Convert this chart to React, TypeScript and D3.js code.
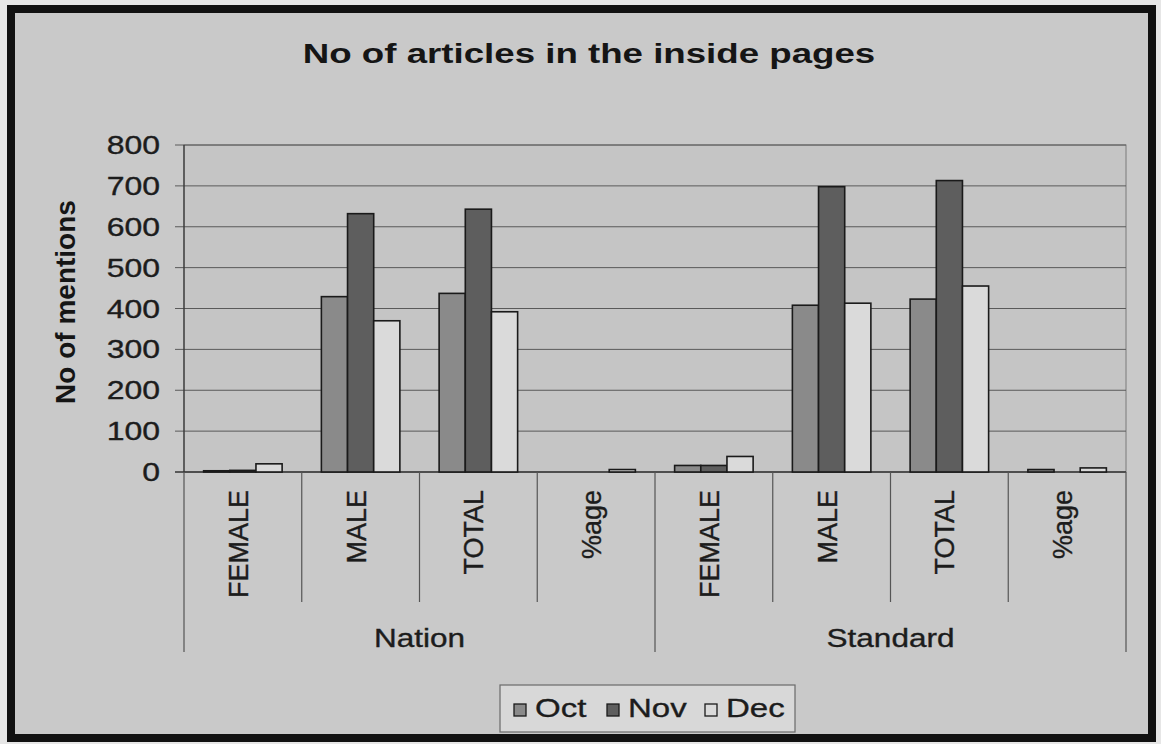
import React from "react";
import * as d3 from "d3";

// Chart data
const groups = ["Nation", "Standard"];
const categories = ["FEMALE", "MALE", "TOTAL", "%age"];
const series = ["Oct", "Nov", "Dec"];
const nationValues = [
  [3, 4, 20],
  [429, 632, 370],
  [437, 643, 392],
  [0, 0, 6],
];
const standardValues = [
  [16, 16, 38],
  [408, 698, 413],
  [423, 713, 455],
  [6, 0, 10],
];
const yTicks = [0, 100, 200, 300, 400, 500, 600, 700, 800];

const seriesFill: Record<string, string> = { Oct: "#8a8a8a", Nov: "#5e5e5e", Dec: "#dadada" };
const FONT = "'Liberation Sans', Arial, Helvetica, sans-serif";
const SX = 1.28; // horizontal text stretch
const INK = "#1c1c1c";

export default function App() {
  const W = 1161;
  const H = 744;
  const plot = { left: 184, right: 1126, top: 145, bottom: 472 };

  const rows = groups.flatMap((g, gi) =>
    categories.map((c, ci) => ({
      key: `${g}-${c}`,
      group: g,
      cat: c,
      values: (gi === 0 ? nationValues : standardValues)[ci],
    }))
  );

  const x = d3
    .scaleBand<string>()
    .domain(rows.map((r) => r.key))
    .range([plot.left, plot.right])
    .padding(0);
  const xi = d3
    .scaleBand<string>()
    .domain(series)
    .range([0, x.bandwidth()])
    .paddingInner(0)
    .paddingOuter(0.75);
  const y = d3.scaleLinear().domain([0, 800]).range([plot.bottom, plot.top]);

  const bw = x.bandwidth();
  const dividers = d3.range(rows.length + 1).map((i) => plot.left + i * bw);

  // slightly heavier text strokes, like a printed chart
  const textInk = { fill: INK, stroke: INK, strokeWidth: 0.35 };

  return (
    <svg width={W} height={H} style={{ position: "absolute", left: 0, top: 0 }}>
      <rect x={0} y={0} width={W} height={H} fill="#e6e6e6" />
      {/* outer frame */}
      <rect x={11} y={9} width={1141} height={729} fill="#c9c9c9" stroke="#111" strokeWidth={8} />

      {/* title */}
      <text
        transform={`translate(589,63) scale(1.31,1)`}
        textAnchor="middle"
        fontFamily={FONT}
        fontWeight="bold"
        fontSize={28}
        fill="#151515"
      >
        No of articles in the inside pages
      </text>

      {/* plot area */}
      <rect
        x={plot.left}
        y={plot.top}
        width={plot.right - plot.left}
        height={plot.bottom - plot.top}
        fill="#c5c5c5"
        stroke="#7a7a7a"
        strokeWidth={1}
      />
      {yTicks.map((t) => (
        <g key={t}>
          <line
            x1={plot.left - 9}
            x2={plot.right}
            y1={y(t)}
            y2={y(t)}
            stroke={t === 0 ? "#333" : "#5a5a5a"}
            strokeWidth={t === 0 ? 1.5 : 1}
          />
          <text
            transform={`translate(160,${y(t) + 9}) scale(${SX},1)`}
            textAnchor="end"
            fontFamily={FONT}
            fontSize={25}
            {...textInk}
          >
            {t}
          </text>
        </g>
      ))}
      <line x1={plot.left} x2={plot.left} y1={plot.top} y2={plot.bottom} stroke="#333" strokeWidth={1.2} />

      {/* y axis title */}
      <text
        transform={`translate(75,302) rotate(-90)`}
        textAnchor="middle"
        fontFamily={FONT}
        fontWeight="bold"
        fontSize={28}
        fill="#151515"
      >
        No of mentions
      </text>

      {/* bars */}
      {rows.map((r) =>
        series.map((s, si) => {
          const v = r.values[si];
          if (v <= 0) return null;
          const x0 = (x(r.key) as number) + (xi(s) as number);
          return (
            <rect
              key={`${r.key}-${s}`}
              x={x0}
              y={y(v)}
              width={xi.bandwidth()}
              height={plot.bottom - y(v)}
              fill={seriesFill[s]}
              stroke="#1a1a1a"
              strokeWidth={1.6}
            />
          );
        })
      )}

      {/* category axis dividers */}
      {dividers.map((dx, i) => (
        <line
          key={i}
          x1={dx}
          x2={dx}
          y1={plot.bottom}
          y2={i % categories.length === 0 ? 652 : 602}
          stroke="#555"
          strokeWidth={1.2}
        />
      ))}

      {/* category labels */}
      {rows.map((r) => {
        const cx = (x(r.key) as number) + bw / 2 + 5;
        return (
          <text
            key={r.key}
            transform={`translate(${cx},490) rotate(-90)`}
            textAnchor="end"
            fontFamily={FONT}
            fontSize={27}
            {...textInk}
          >
            {r.cat}
          </text>
        );
      })}

      {/* group labels */}
      {groups.map((g, gi) => {
        const gx = plot.left + (gi * categories.length + categories.length / 2) * bw;
        return (
          <text
            key={g}
            transform={`translate(${gx},647) scale(1.26,1)`}
            textAnchor="middle"
            fontFamily={FONT}
            fontSize={25}
            {...textInk}
          >
            {g}
          </text>
        );
      })}

      {/* legend */}
      <rect x={500} y={685} width={295} height={47} fill="#d8d8d8" stroke="#6a6a6a" strokeWidth={1.2} />
      {series.map((s, i) => {
        const lx = [514, 607, 705][i];
        return (
          <g key={s}>
            <rect x={lx} y={704} width={12} height={12} fill={seriesFill[s]} stroke="#1a1a1a" strokeWidth={1.3} />
            <text
              transform={`translate(${lx + 21},717) scale(1.27,1)`}
              fontFamily={FONT}
              fontSize={26}
              {...textInk}
            >
              {s}
            </text>
          </g>
        );
      })}
    </svg>
  );
}
